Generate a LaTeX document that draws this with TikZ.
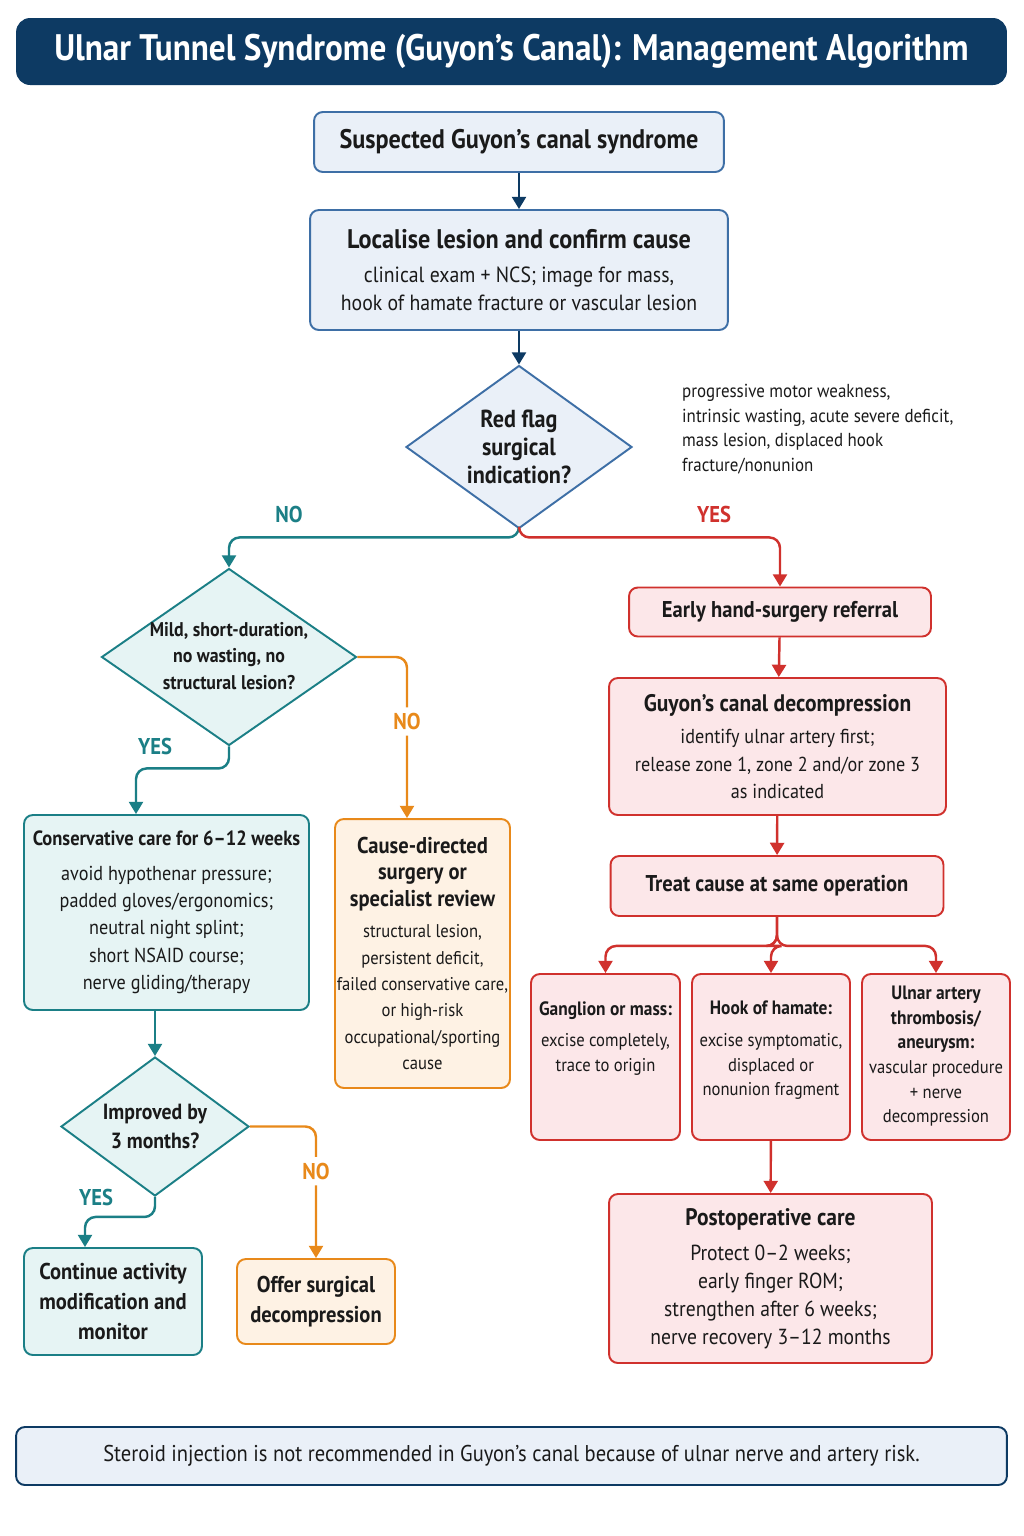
\documentclass[tikz,border=0pt]{standalone}
\usepackage{fontspec}
\setmainfont{PT Sans}[FakeStretch=0.9]
\usetikzlibrary{shapes.geometric,arrows.meta}

\definecolor{navy}{HTML}{0D3A63}
\definecolor{ink}{HTML}{1A1A1A}
\definecolor{bluel}{HTML}{3E6FA6}
\definecolor{bluef}{HTML}{EAF0F8}
\definecolor{teall}{HTML}{1B7F86}
\definecolor{tealf}{HTML}{E6F4F4}
\definecolor{orangel}{HTML}{E8891A}
\definecolor{orangef}{HTML}{FEF2E4}
\definecolor{redl}{HTML}{D0312D}
\definecolor{redf}{HTML}{FCE7E9}

\newcommand\hdfont{\bfseries\fontsize{13}{17}\selectfont}
\newcommand\bighd{\bfseries\fontsize{15.3}{19}\selectfont}
\newcommand\smhd{\bfseries\fontsize{11}{14}\selectfont}

\begin{document}
\begin{tikzpicture}[x=0.02cm,y=-0.02cm,
  box/.style={draw, rounded corners=5pt, line width=1.1pt, align=center, inner sep=1pt,
    text=ink, font=\fontsize{11.5}{15.6}\selectfont},
  bluebox/.style={box, draw=bluel, fill=bluef},
  tealbox/.style={box, draw=teall, fill=tealf},
  orangebox/.style={box, draw=orangel, fill=orangef},
  redbox/.style={box, draw=redl, fill=redf},
  dia/.style={diamond, draw, line width=1.1pt, inner sep=0pt},
  dtxt/.style={align=center, text=ink, font=\bfseries\fontsize{11.3}{15}\selectfont},
  smtxt/.style={align=center, text=ink, anchor=north, font=\fontsize{10.5}{14}\selectfont},
  link/.style={line width=1.4pt, rounded corners=6pt, -{Triangle[width=8pt,length=7pt]}},
  lbl/.style={font=\bfseries\fontsize{13}{13}\selectfont},
]
\useasboundingbox[fill=white] (0,0) rectangle (1024,1536);

% title and footer
\node[fill=navy, rounded corners=8pt, minimum width=19.82cm, minimum height=1.34cm,
  text=white, font=\bfseries\fontsize{21}{24}\selectfont] (title) at (511.5,51.5)
  {Ulnar Tunnel Syndrome (Guyon’s Canal): Management Algorithm};
\node[box, draw=navy, fill=bluef, minimum width=19.82cm, minimum height=1.16cm,
  font=\fontsize{13}{15}\selectfont] (foot) at (511.5,1456)
  {Steroid injection is not recommended in Guyon’s canal because of ulnar nerve and artery risk.};

% top of the chart
\node[bluebox, minimum width=8.2cm, minimum height=1.2cm, font=\bighd] (susp) at (519,142)
  {Suspected Guyon’s canal syndrome};
\node[bluebox, minimum width=8.36cm, minimum height=2.4cm, font=\fontsize{12.5}{16}\selectfont] (loc) at (519,270)
  {{\bighd Localise lesion and confirm cause}\\[3pt]
   clinical exam + NCS; image for mass,\\ hook of hamate fracture or vascular lesion};
\node[dia, draw=bluel, fill=bluef, minimum width=4.52cm, minimum height=3.26cm] (flag) at (519,447) {};
\node[dtxt, font=\bfseries\fontsize{14}{16}\selectfont] (flagt) at (flag) {Red flag\\surgical\\indication?};
\node[anchor=north west, align=left, text=ink, font=\fontsize{10.7}{14}\selectfont] (note) at (676,378)
  {progressive motor weakness,\\ intrinsic wasting, acute severe deficit,\\
   mass lesion, displaced hook\\ fracture/nonunion};

% left branch
\node[dia, draw=teall, fill=tealf, minimum width=5.1cm, minimum height=3.54cm] (mild) at (229,657) {};
\node[dtxt] (mildt) at (229,656) {Mild, short-duration,\\no wasting, no\\structural lesion?};
\node[tealbox, minimum width=5.7cm, minimum height=3.9cm] (cons) at (166.5,912.5)
  {{\bfseries\fontsize{11.7}{15}\selectfont Conservative care for 6–12 weeks}\\[4pt]
   avoid hypothenar pressure;\\ padded gloves/ergonomics;\\ neutral night splint;\\
   short NSAID course;\\ nerve gliding/therapy};
\node[orangebox, minimum width=3.5cm, minimum height=5.38cm, font=\fontsize{10.5}{15}\selectfont] (cause) at (422.5,953.5)
  {{\hdfont Cause-directed}\\ {\hdfont surgery or}\\ {\hdfont specialist review}\\[3pt]
   structural lesion,\\ persistent deficit,\\ failed conservative care,\\ or high-risk\\
   occupational/sporting\\ cause};
\node[dia, draw=teall, fill=tealf, minimum width=3.76cm, minimum height=2.78cm] (impr) at (155,1126.5) {};
\node[dtxt, font=\bfseries\fontsize{12.5}{16}\selectfont] (imprt) at (impr) {Improved by\\3 months?};
\node[tealbox, minimum width=3.56cm, minimum height=2.14cm, font=\hdfont] (cont) at (113,1301.5)
  {Continue activity\\ modification and\\ monitor};
\node[orangebox, minimum width=3.16cm, minimum height=1.7cm, font=\hdfont] (offer) at (316,1301.5)
  {Offer surgical\\ decompression};

% right branch
\node[redbox, minimum width=6.04cm, minimum height=0.98cm, font=\hdfont] (refer) at (780,612)
  {Early hand-surgery referral};
\node[redbox, minimum width=6.74cm, minimum height=2.74cm] (decomp) at (777.5,746.5)
  {{\bfseries\fontsize{13.6}{17}\selectfont Guyon’s canal decompression}\\[3pt]
   identify ulnar artery first;\\ release zone 1, zone 2 and/or zone 3\\ as indicated};
\node[redbox, minimum width=6.66cm, minimum height=1.2cm, font=\hdfont] (treat) at (777,886)
  {Treat cause at same operation};
\node[redbox, minimum width=2.98cm, minimum height=3.32cm] (gang) at (605.5,1057) {};
\node[smtxt] (gangt) at (605.5,995) {{\smhd Ganglion or mass:}\\[4pt] excise completely,\\ trace to origin};
\node[redbox, minimum width=3.16cm, minimum height=3.32cm] (hook) at (771,1057) {};
\node[smtxt] (hookt) at (771,995) {{\smhd Hook of hamate:}\\[4pt] excise symptomatic,\\ displaced or\\ nonunion fragment};
\node[redbox, minimum width=2.96cm, minimum height=3.32cm] (ulnar) at (936,1057) {};
\node[smtxt] (ulnart) at (936,980) {{\smhd Ulnar artery}\\ {\smhd thrombosis/}\\ {\smhd aneurysm:}\\
  vascular procedure\\ + nerve\\ decompression};
\node[redbox, minimum width=6.46cm, minimum height=3.38cm, font=\fontsize{12.4}{16}\selectfont] (post) at (770.5,1278.5)
  {{\bfseries\fontsize{13.6}{17}\selectfont Postoperative care}\\[4pt]
   Protect 0–2 weeks;\\ early finger ROM;\\ strengthen after 6 weeks;\\ nerve recovery 3–12 months};

% connectors
\draw[link, navy] (susp) -- (loc);
\draw[link, navy] (loc) -- (flag);
\draw[link, teall] (flag.south) -- ++(0,8) -| (mild.north);
\draw[link, redl] (flag.south) -- ++(0,8) -| (refer.north);
\node[lbl, text=teall] (no1) at (289,514) {NO};
\node[lbl, text=redl] (yes1) at (714,514) {YES};
\draw[link, orangel] (mild.east) -| ([xshift=-0.31cm]cause.north)
  node[pos=0.7, fill=white, lbl, text=orangel] (no2) {NO};
\draw[link, teall] (mild.south) -- ++(0,22) -| ([xshift=-0.61cm]cons.north);
\node[lbl, text=teall] (yes2) at (155,746) {YES};
\draw[link, teall] (impr.north |- cons.south) -- (impr.north);
\draw[link, orangel] (impr.east) -| (offer.north)
  node[pos=0.67, fill=white, lbl, text=orangel] (no3) {NO};
\draw[link, teall] (impr.south) -- ++(0,20) -| ([xshift=-0.56cm]cont.north);
\node[lbl, text=teall] (yes3) at (96,1197) {YES};

\draw[link, redl] (refer) -- (decomp);
\draw[link, redl] (decomp) -- (treat);
\draw[link, redl] (treat.south) -- ++(0,29) -| (gang.north);
\draw[link, redl] (treat.south) -- ++(0,29) -| (hook.north);
\draw[link, redl] (treat.south) -- ++(0,29) -| (ulnar.north);
\draw[link, redl] (hook) -- (post);
\end{tikzpicture}
\end{document}
